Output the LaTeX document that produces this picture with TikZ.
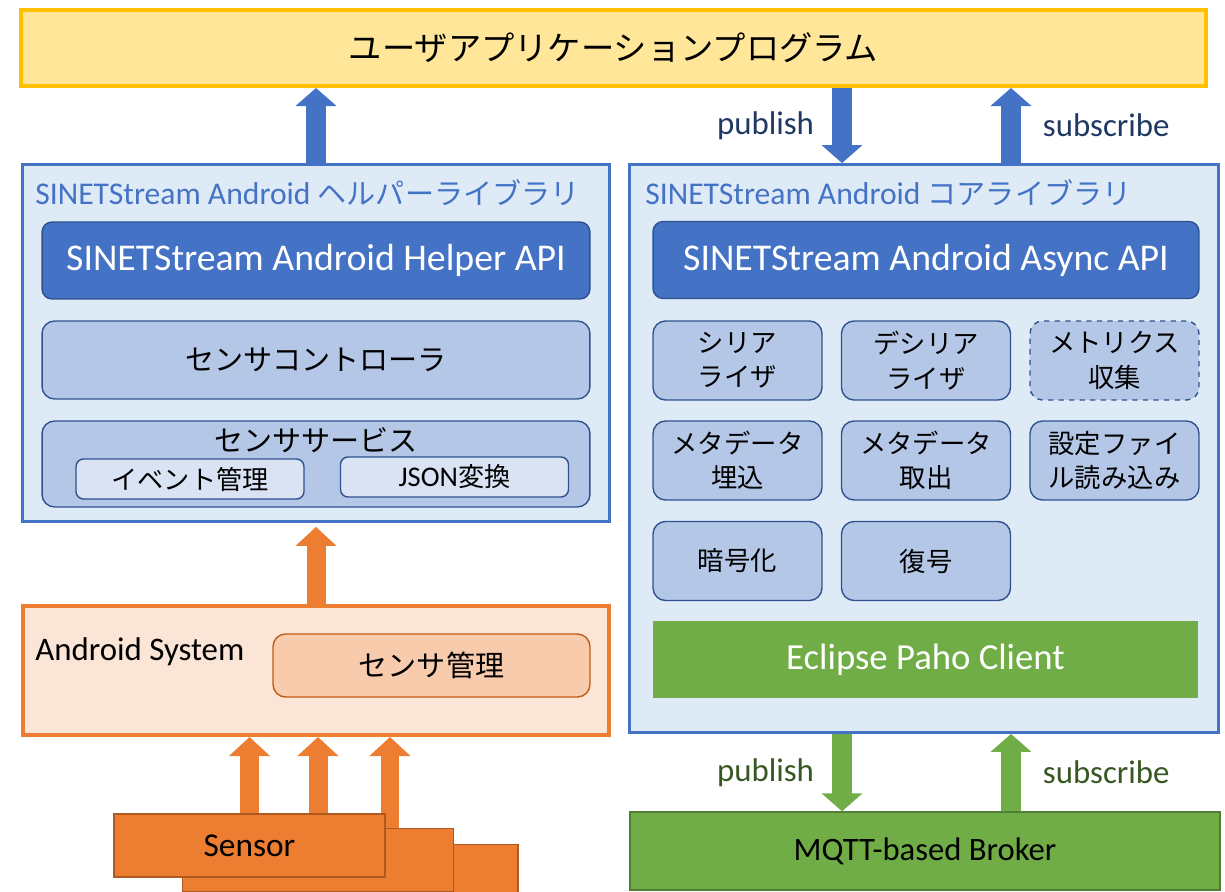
\documentclass[tikz,border=0pt]{standalone}
\usepackage{fontspec}
\setmainfont{Carlito}
\newfontfamily\jp[Scale=0.92]{Noto Sans CJK JP}
\usetikzlibrary{arrows.meta}
\definecolor{appfill}{HTML}{FFE699}
\definecolor{appline}{HTML}{FFC000}
\definecolor{libfill}{HTML}{DEEBF7}
\definecolor{libblue}{HTML}{4472C4}
\definecolor{darkblue}{HTML}{2F528F}
\definecolor{modfill}{HTML}{B4C7E7}
\definecolor{subfill}{HTML}{DAE3F3}
\definecolor{navy}{HTML}{203864}
\definecolor{pahogreen}{HTML}{70AD47}
\definecolor{darkgreen}{HTML}{507E32}
\definecolor{labelgreen}{HTML}{385723}
\definecolor{sysfill}{HTML}{FBE5D6}
\definecolor{sysline}{HTML}{ED7D31}
\definecolor{mgmtfill}{HTML}{F8CBAD}
\definecolor{mgmtline}{HTML}{C55A11}
\definecolor{sensorline}{HTML}{AE5A21}

\begin{document}
\begin{tikzpicture}[x=0.02cm,y=-0.02cm,
    every node/.style={inner sep=0pt},
    appbox/.style={rectangle,draw=appline,fill=appfill,line width=2.3pt,minimum width=23.7cm,minimum height=1.52cm},
    libbox/.style={rectangle,draw=libblue,fill=libfill,line width=1.7pt},
    libtitle/.style={anchor=west,text=libblue,font=\fontsize{18}{21}\selectfont},
    apibox/.style={rectangle,rounded corners=0.2cm,draw=darkblue,fill=libblue,line width=0.8pt,text=white,minimum height=1.54cm,font=\fontsize{21.5}{25}\selectfont},
    modbox/.style={rectangle,rounded corners=0.25cm,draw=darkblue,fill=modfill,line width=0.8pt,align=center},
    subbox/.style={rectangle,rounded corners=0.15cm,draw=darkblue,fill=subfill,line width=0.8pt,minimum width=4.56cm,minimum height=0.8cm},
    cell/.style={modbox,minimum width=3.38cm,minimum height=1.58cm,font=\jp\fontsize{16.3}{19.5}\selectfont},
    sysbox/.style={rectangle,draw=sysline,fill=sysfill,line width=2.3pt},
    sensorbox/.style={rectangle,draw=sensorline,fill=sysline,line width=0.8pt,minimum width=5.42cm,minimum height=1.26cm,font=\fontsize{19}{22}\selectfont},
    bluearrow/.style={draw=libblue,line width=0.4cm,-{Triangle[width=0.8cm,length=0.36cm]}},
    greenarrow/.style={draw=pahogreen,line width=0.4cm,-{Triangle[width=0.8cm,length=0.36cm]}},
    orangearrow/.style={draw=sysline,line width=0.38cm,-{Triangle[width=0.8cm,length=0.38cm]}},
    flowlabel/.style={font=\fontsize{18.7}{22}\selectfont}]
    \useasboundingbox (0,0) rectangle (1225,892);

    \node[appbox] (app) at (613.5,48) {\jp\fontsize{20.6}{24}\selectfont ユーザアプリケーションプログラム};

    \node[libbox,minimum width=11.74cm,minimum height=7.14cm] (helper) at (316,343) {};
    \node[libtitle] (helpertitle) at (35,193) {SINETStream Android {\jp ヘルパーライブラリ}};
    \node[apibox,minimum width=10.96cm] (helperapi) at (316,260.5) {SINETStream Android Helper API};
    \node[modbox,minimum width=10.96cm,minimum height=1.56cm,font=\jp\fontsize{18}{21}\selectfont] (controller) at (316,360) {センサコントローラ};
    \node[modbox,minimum width=10.96cm,minimum height=1.72cm] (service) at (316,464) {};
    \node[font=\jp\fontsize{18}{21}\selectfont] (servicetitle) at (316,440) {センササービス};
    \node[subbox,font=\jp\fontsize{16.2}{19}\selectfont] (event) at (190,479) {イベント管理};
    \node[subbox,font=\fontsize{16.2}{19}\selectfont] (json) at (454.5,477) {JSON{\jp 変換}};

    \node[libbox,minimum width=11.78cm,minimum height=11.36cm] (core) at (924,448.5) {};
    \node[libtitle] (coretitle) at (645,193) {SINETStream Android {\jp コアライブラリ}};
    \node[apibox,minimum width=10.92cm] (asyncapi) at (926,260) {SINETStream Android Async API};
    \node[cell] (serializer) at (737.5,360.5) {シリア\\ライザ};
    \node[cell] (deserializer) at (926,360.5) {デシリア\\ライザ};
    \node[cell,dashed] (metrics) at (1114.5,360.5) {メトリクス\\収集};
    \node[cell] (metaembed) at (737.5,460.5) {メタデータ\\埋込};
    \node[cell] (metaextract) at (926,460.5) {メタデータ\\取出};
    \node[cell] (config) at (1114.5,460.5) {設定ファイ\\ル読み込み};
    \node[cell] (encrypt) at (737.5,561) {暗号化};
    \node[cell] (decrypt) at (926,561) {復号};
    \node[rectangle,fill=pahogreen,text=white,minimum width=10.9cm,minimum height=1.54cm,font=\fontsize{20.9}{25}\selectfont] (paho) at (925.5,659.5) {Eclipse Paho Client};

    \node[rectangle,draw=darkgreen,fill=pahogreen,line width=0.8pt,minimum width=11.8cm,minimum height=1.56cm,font=\fontsize{18.6}{22}\selectfont] (broker) at (925,851) {MQTT-based Broker};

    \node[sysbox,minimum width=11.74cm,minimum height=2.58cm] (android) at (316,670.5) {};
    \node[anchor=west,font=\fontsize{18.7}{22}\selectfont] (androidtitle) at (35,652) {Android System};
    \node[modbox,draw=mgmtline,fill=mgmtfill,minimum width=6.34cm,minimum height=1.26cm,font=\jp\fontsize{18}{21}\selectfont] (sensormgmt) at (431.5,665.5) {センサ管理};

    \node[sensorbox,minimum width=5.36cm] (sensorc) at (384,876) {};
    \draw[orangearrow] ([xshift=0.12cm]sensorc.north) -- ([xshift=0.12cm]sensorc.north |- android.south);
    \node[sensorbox] (sensorb) at (318,860) {};
    \draw[orangearrow] (sensorb.north) -- (sensorb.north |- android.south);
    \node[sensorbox] (sensora) at (249.5,845.5) {Sensor};
    \draw[orangearrow] (sensora.north) -- (sensora.north |- android.south);

    \draw[orangearrow,shorten >=0.08cm] (android.north) -- (helper.south);
    \draw[bluearrow] (helper.north) -- (helper.north |- app.south);

    \draw[bluearrow] ([xshift=-1.64cm]core.north |- app.south) -- ([xshift=-1.64cm]core.north)
        node[flowlabel,text=navy,midway,left=0.36cm] {publish};
    \draw[bluearrow] ([xshift=1.74cm]core.north) -- ([xshift=1.74cm]core.north |- app.south)
        node[flowlabel,text=navy,midway,right=0.44cm] {subscribe};
    \draw[greenarrow] ([xshift=-1.64cm]core.south) -- ([xshift=-1.64cm]core.south |- broker.north)
        node[flowlabel,text=labelgreen,midway,left=0.36cm] {publish};
    \draw[greenarrow] ([xshift=1.74cm]core.south |- broker.north) -- ([xshift=1.74cm]core.south)
        node[flowlabel,text=labelgreen,midway,right=0.44cm] {subscribe};
\end{tikzpicture}
\end{document}
